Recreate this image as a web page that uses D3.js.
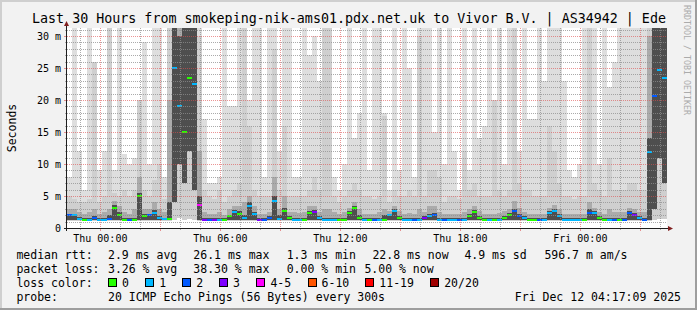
<!DOCTYPE html>
<html>
<head>
<meta charset="utf-8">
<script src="https://cdn.jsdelivr.net/npm/d3@7"></script>
<style>
  body { margin: 0; background: #f2f2f2; }
  svg { display: block; }
  svg text { font-family: "DejaVu Sans Mono", monospace; }
</style>
</head>
<body>
<svg id="chart" width="697" height="310"></svg>
<script>
// one column = 15 minutes, 120 columns = 30 hours (values in ms)
var maxPing = [8, 40, 12, 6, 40, 26, 9, 12, 40, 9,
  40, 11.5, 10, 11, 20, 29, 10, 40, 40, 8,
  40, 40, 40, 40, 40, 40, 40, 17, 7, 7,
  8, 40, 19, 19, 40, 40, 20, 40, 40, 8,
  40, 40, 12, 40, 40, 8, 8, 40, 27, 30,
  23, 40, 40, 8, 6, 10, 40, 14, 18, 40,
  9, 40, 40, 18, 6, 40, 9, 40, 25, 8,
  40, 40, 40, 15, 40, 10, 40, 12, 6, 40,
  9, 40, 14, 16, 40, 20, 40, 10, 40, 40,
  12, 40, 17, 17, 40, 23, 40, 40, 40, 23,
  9, 8, 10, 40, 40, 40, 10, 40, 22, 26,
  40, 40, 40, 40, 40, 40, 40, 40, 40, 40];

var upper2 = [5, 4.5, 4, 4, 4.5, 26, 4, 5, 40, 5.5,
  5, 6, 5, 6, 20, 6, 5, 7.5, 10, 4.5,
  40, 40, 40, 40, 40, 40, 30, 6, 5, 4.5,
  6, 4, 5, 6, 7, 40, 16, 6, 5, 5,
  5, 28, 6, 16, 5, 5, 5, 5, 6, 8,
  6, 40, 40, 5, 4, 5, 6, 7, 6, 5,
  5, 4.5, 5, 17.5, 4, 6, 5, 5, 6, 5,
  30, 5, 9, 9, 8, 4, 5, 5, 4.5, 12,
  6, 7, 5, 5, 5, 20, 6, 5, 6, 40,
  7, 6, 6, 5, 5, 5, 16, 12, 7, 5,
  5, 4.5, 5, 5, 40, 7, 6, 5, 11, 6,
  6, 6, 7, 7, 6, 6, 40, 40, 40, 40];

var upper3 = [3, 3, 2.5, 2.2, 2.5, 3, 2.2, 2.5, 3, 4.2,
  3.5, 2.5, 2.2, 3, 8, 3, 3, 4, 3, 2.5,
  20, 40, 35, 34, 40, 36, 12, 2.5, 2.2, 2.2,
  2.5, 2, 3, 3.5, 3.5, 4, 5, 3.5, 2.2, 2.2,
  2.5, 8, 3, 5, 2.5, 2.5, 2.4, 2.5, 3.5, 3.5,
  2.5, 3, 3, 2.5, 2.2, 2.5, 3.2, 4, 3, 2.2,
  2.2, 2.2, 2.5, 3, 2.6, 3.4, 2.6, 2.2, 2.4, 2.2,
  3, 2.5, 3.5, 3.5, 2.5, 2.2, 2.2, 2.2, 2.2, 2.5,
  3, 3.5, 2.6, 2.2, 2.2, 2.2, 2.4, 2.6, 3, 4.2,
  3.2, 2.5, 2.2, 2.2, 2.2, 2.2, 3.2, 3.6, 3, 2.2,
  2.2, 2.2, 2.2, 2.2, 4, 3.2, 2.5, 2.2, 3, 2.5,
  2.5, 2.5, 3.2, 3, 2.5, 2.5, 30, 40, 40, 36];

var upper4 = [2.2, 2.2, 1.7, 1.5, 1.6, 1.8, 1.5, 1.6, 2, 3.6,
  2.5, 1.6, 1.5, 1.6, 5.5, 2.2, 2.2, 2.8, 1.8, 1.6,
  4, 40, 30, 40, 40, 32, 5, 1.6, 1.5, 1.5,
  1.6, 1.5, 2, 2.8, 2.6, 2, 4, 2.5, 1.5, 1.5,
  1.8, 5, 2, 3.2, 1.8, 1.6, 1.6, 1.6, 2.6, 2.8,
  1.8, 1.6, 1.6, 1.5, 1.5, 1.6, 2.6, 3.4, 2, 1.5,
  1.5, 1.5, 1.6, 2, 2.2, 2.9, 1.8, 1.5, 1.5, 1.5,
  1.6, 1.8, 2.2, 2.4, 1.6, 1.5, 1.5, 1.5, 1.5, 1.6,
  2.2, 2.8, 1.8, 1.5, 1.5, 1.5, 1.6, 1.8, 2.4, 3,
  2.2, 1.8, 1.5, 1.5, 1.5, 1.5, 2.6, 2.9, 2.2, 1.5,
  1.5, 1.5, 1.5, 1.5, 3, 2.6, 1.8, 1.5, 1.6, 1.6,
  1.6, 1.6, 2.6, 2.4, 1.8, 1.6, 14, 40, 40, 33];

var lowerOuter = [1.15, 1.15, 1.15, 1.15, 1.15, 1.15, 1.15, 1.15, 1.15, 1.15,
  1.15, 1.15, 1.15, 1.15, 1.15, 1.15, 1.15, 1.15, 1.15, 1.15,
  1.15, 1.3, 1.5, 1.3, 1.4, 1.3, 1.15, 1.15, 1.15, 1.15,
  1.15, 1.15, 1.15, 1.15, 1.15, 1.15, 1.15, 1.15, 1.15, 1.15,
  1.15, 1.15, 1.15, 1.15, 1.15, 1.15, 1.15, 1.15, 1.15, 1.15,
  1.15, 1.15, 1.15, 1.15, 1.15, 1.15, 1.15, 1.15, 1.15, 1.15,
  1.15, 1.15, 1.15, 1.15, 1.15, 1.15, 1.15, 1.15, 1.15, 1.15,
  1.15, 1.15, 1.15, 1.15, 1.15, 1.15, 1.15, 1.15, 1.15, 1.15,
  1.15, 1.15, 1.15, 1.15, 1.15, 1.15, 1.15, 1.15, 1.15, 1.15,
  1.15, 1.15, 1.15, 1.15, 1.15, 1.15, 1.15, 1.15, 1.15, 1.15,
  1.15, 1.15, 1.15, 1.15, 1.15, 1.15, 1.15, 1.15, 1.15, 1.15,
  1.15, 1.15, 1.15, 1.15, 1.15, 1.15, 1.15, 1.3, 1.4, 1.4];

var lowerInner = [1.2, 1.2, 1.2, 1.2, 1.2, 1.2, 1.2, 1.2, 1.2, 1.2,
  1.2, 1.2, 1.2, 1.2, 1.2, 1.2, 1.2, 1.2, 1.2, 1.2,
  1.2, 4, 10, 7, 12, 6, 1.3, 1.2, 1.2, 1.2,
  1.2, 1.2, 1.2, 1.2, 1.2, 1.2, 1.2, 1.2, 1.2, 1.2,
  1.2, 1.2, 1.2, 1.2, 1.2, 1.2, 1.2, 1.2, 1.2, 1.2,
  1.2, 1.2, 1.2, 1.2, 1.2, 1.2, 1.2, 1.2, 1.2, 1.2,
  1.2, 1.2, 1.2, 1.2, 1.2, 1.2, 1.2, 1.2, 1.2, 1.2,
  1.2, 1.2, 1.2, 1.2, 1.2, 1.2, 1.2, 1.2, 1.2, 1.2,
  1.2, 1.2, 1.2, 1.2, 1.2, 1.2, 1.2, 1.2, 1.2, 1.2,
  1.2, 1.2, 1.2, 1.2, 1.2, 1.2, 1.2, 1.2, 1.2, 1.2,
  1.2, 1.2, 1.2, 1.2, 1.2, 1.2, 1.2, 1.2, 1.2, 1.2,
  1.2, 1.2, 1.2, 1.2, 1.2, 1.2, 1.3, 3, 11, 7];

var medianRtt = [2.0, 2.0, 1.4, 1.3, 1.3, 1.6, 1.3, 1.3, 1.4, 3.2,
  2.0, 1.3, 1.3, 1.3, 5.0, 1.8, 2.0, 2.3, 1.5, 1.4,
  1.4, 25, 19, 15, 23.5, 22.5, 3.6, 1.3, 1.3, 1.3,
  1.3, 1.3, 1.8, 2.5, 2.2, 1.6, 3.5, 2.2, 1.3, 1.3,
  1.5, 4.2, 1.4, 2.7, 1.5, 1.3, 1.3, 1.3, 2.3, 2.5,
  1.5, 1.3, 1.3, 1.3, 1.3, 1.3, 2.3, 3.1, 1.5, 1.3,
  1.3, 1.3, 1.3, 1.3, 2.0, 2.7, 1.5, 1.3, 1.3, 1.3,
  1.3, 1.6, 1.8, 2.0, 1.3, 1.3, 1.3, 1.3, 1.3, 1.3,
  1.8, 2.5, 1.5, 1.3, 1.3, 1.3, 1.3, 1.5, 2.0, 2.6,
  1.8, 1.5, 1.3, 1.3, 1.3, 1.3, 2.3, 2.6, 1.8, 1.3,
  1.3, 1.3, 1.3, 1.3, 2.4, 2.3, 1.5, 1.3, 1.3, 1.3,
  1.3, 1.3, 2.3, 2.1, 1.5, 1.3, 11.9, 20.6, 24.7, 23.5];

var lossCount = [2, 1, 1, 0, 1, 2, 1, 1, 2, 0,
  0, 0, 2, 0, 0, 0, 2, 1, 1, 1,
  0, 1, 1, 0, 0, 1, 4, 3, 2, 3,
  1, 0, 0, 1, 0, 1, 1, 1, 3, 2,
  2, 1, 1, 0, 0, 1, 1, 0, 0, 3,
  1, 1, 1, 1, 0, 0, 0, 0, 0, 1,
  0, 2, 1, 0, 1, 1, 0, 1, 1, 2,
  1, 3, 1, 2, 1, 2, 1, 1, 2, 1,
  0, 0, 0, 0, 1, 0, 1, 0, 0, 2,
  2, 1, 0, 0, 2, 1, 1, 1, 1, 1,
  1, 1, 1, 0, 2, 1, 0, 0, 1, 2,
  0, 2, 2, 3, 1, 2, 1, 2, 1, 1];

var lossMax = [0, 1, 2, 3, 5, 10, 19, 20];
var lossLabels = ["0", "1", "2", "3", "4-5", "6-10", "11-19", "20/20"];
var lossColors = ["#26ff00", "#00b8ff", "#0059ff", "#7e00ff", "#ff00ff", "#ff5500", "#ff0000", "#a00000"];
var smokeColors = ["#dedede", "#cfcfcf", "#ababab", "#4e4e4e"];

var yTicks = [0, 5, 10, 15, 20, 25, 30];

var legendRtt = [["2.9 ms avg", 108], ["26.1 ms max", 193.3], ["1.3 ms min", 286.7], ["22.8 ms now", 372.4], ["4.9 ms sd", 464.4], ["596.7 m am/s", 544.4]];
var legendLoss = [["3.26 % avg", 108], ["38.30 % max", 193.3], ["0.00 % min", 286.7], ["5.00 % now", 364.4]];
var legendBoxX = [108, 145.3, 182.2, 219, 256.4, 307.6, 365.3, 430.2];

var svg = d3.select("#chart");
var W = 697, H = 310;
// careful: "top" is taken by window.top
var plotLeft = 67, plotTop = 28, plotW = 600, plotH = 200;

var startTime = new Date(2025, 11, 10, 22, 20, 0);
var endTime = new Date(2025, 11, 12, 4, 20, 0);
var stepMin = 15;

var x = d3.scaleTime().domain([startTime, endTime]).range([plotLeft, plotLeft + plotW]);
var y = d3.scaleLinear().domain([0, 31.25]).range([plotTop + plotH, plotTop]);

var times = medianRtt.map(function(d, i) { return d3.timeMinute.offset(startTime, i * stepMin); });
function colX(i) { return x(times[i]); }
function colW(i) { return x(d3.timeMinute.offset(times[i], stepMin)) - x(times[i]); }

function lossColor(n) {
  for (var k = 0; k < lossMax.length; k++) {
    if (n <= lossMax[k]) return lossColors[k];
  }
  return lossColors[lossColors.length - 1];
}

// frame
svg.append("rect").attr("width", W).attr("height", H).attr("fill", "#f2f2f2");
svg.append("rect").attr("x", 0).attr("y", 0).attr("width", W).attr("height", 2).attr("fill", "#cfcfcf");
svg.append("rect").attr("x", 0).attr("y", 0).attr("width", 2).attr("height", H).attr("fill", "#cfcfcf");
svg.append("rect").attr("x", 0).attr("y", H - 2).attr("width", W).attr("height", 2).attr("fill", "#9e9e9e");
svg.append("rect").attr("x", W - 2).attr("y", 0).attr("width", 2).attr("height", H).attr("fill", "#9e9e9e");

// canvas
svg.append("rect").attr("x", plotLeft).attr("y", plotTop).attr("width", plotW).attr("height", plotH).attr("fill", "#fff");

svg.append("clipPath").attr("id", "plotclip")
  .append("rect").attr("x", plotLeft).attr("y", plotTop).attr("width", plotW).attr("height", plotH);

var plot = svg.append("g").attr("clip-path", "url(#plotclip)").attr("shape-rendering", "crispEdges");

// smoke
var layers = [
  { hi: maxPing, lo: lowerOuter },
  { hi: upper2, lo: lowerOuter },
  { hi: upper3, lo: lowerInner },
  { hi: upper4, lo: lowerInner }
];
layers.forEach(function(layer, li) {
  plot.append("g").selectAll("rect")
    .data(layer.hi)
    .enter().append("rect")
    .attr("x", function(d, i) { return colX(i); })
    .attr("width", function(d, i) { return colW(i); })
    .attr("y", function(d) { return y(d); })
    .attr("height", function(d, i) { return Math.max(0, y(layer.lo[i]) - y(d)); })
    .attr("fill", smokeColors[li]);
});

// median, coloured by loss
plot.append("g").selectAll("rect")
  .data(medianRtt)
  .enter().append("rect")
  .attr("x", function(d, i) { return colX(i); })
  .attr("width", function(d, i) { return colW(i); })
  .attr("y", function(d) { return Math.round(y(d)) - 1; })
  .attr("height", 2)
  .attr("fill", function(d, i) { return lossColor(lossCount[i]); });

// grid on top
var grid = svg.append("g").attr("shape-rendering", "crispEdges");
var minorColor = "rgba(143,143,143,0.75)", majorColor = "rgba(222,79,79,0.6)";

d3.range(1, 32).forEach(function(v) {
  var yy = Math.round(y(v)) + 0.5;
  var major = v % 5 === 0;
  grid.append("line").attr("x1", plotLeft).attr("x2", plotLeft + plotW).attr("y1", yy).attr("y2", yy)
    .attr("stroke", major ? majorColor : minorColor).attr("stroke-dasharray", "1,1");
  grid.append("line").attr("x1", plotLeft - (major ? 3 : 2)).attr("x2", plotLeft).attr("y1", yy).attr("y2", yy)
    .attr("stroke", major ? majorColor : minorColor);
});

x.ticks(d3.timeHour.every(1)).forEach(function(t) {
  var xx = Math.round(x(t)) + 0.5;
  var major = t.getHours() % 3 === 0;
  grid.append("line").attr("x1", xx).attr("x2", xx).attr("y1", plotTop).attr("y2", plotTop + plotH)
    .attr("stroke", major ? majorColor : minorColor).attr("stroke-dasharray", "1,1");
  grid.append("line").attr("x1", xx).attr("x2", xx).attr("y1", plotTop + plotH).attr("y2", plotTop + plotH + (major ? 3 : 2))
    .attr("stroke", major ? majorColor : minorColor);
});

// axes + arrows
var axisColor = "#1f1f1f", arrowColor = "#801f1f";
var y0 = y(0);
svg.append("line").attr("x1", plotLeft - 3).attr("x2", plotLeft + plotW + 2).attr("y1", y0 + 0.5).attr("y2", y0 + 0.5)
  .attr("stroke", axisColor).attr("shape-rendering", "crispEdges");
svg.append("line").attr("x1", plotLeft - 0.5).attr("x2", plotLeft - 0.5).attr("y1", y0 + 3).attr("y2", plotTop - 2)
  .attr("stroke", axisColor).attr("shape-rendering", "crispEdges");
svg.append("path").attr("d", "M" + (plotLeft - 3) + "," + (plotTop - 2) + "L" + (plotLeft - 0.5) + "," + (plotTop - 7) + "L" + (plotLeft + 2) + "," + (plotTop - 2) + "Z")
  .attr("fill", arrowColor);
svg.append("path").attr("d", "M" + (plotLeft + plotW + 1) + "," + (y0 - 2) + "L" + (plotLeft + plotW + 6) + "," + (y0 + 0.5) + "L" + (plotLeft + plotW + 1) + "," + (y0 + 3) + "Z")
  .attr("fill", arrowColor);

// y tick labels
svg.append("g").selectAll("text").data(yTicks).enter().append("text")
  .attr("x", 61).attr("y", function(d) { return y(d) + 3.6; })
  .attr("text-anchor", "end").attr("font-size", "10px")
  .text(function(d) { return d === 0 ? "0" : d + " m"; });

// x tick labels
var fmt = d3.timeFormat("%a %H:%M");
svg.append("g").selectAll("text").data(x.ticks(d3.timeHour.every(6))).enter().append("text")
  .attr("x", function(d) { return x(d); }).attr("y", 242)
  .attr("text-anchor", "middle").attr("font-size", "10px")
  .text(function(d) { return fmt(d); });

// title, unit label, watermark
svg.append("text").attr("x", 349).attr("y", 23).attr("text-anchor", "middle").attr("font-size", "13.33px")
  .text("Last 30 Hours from smokeping-nik-ams01.pdx.net.uk to Vivor B.V. | AS34942 | Ede");
svg.append("text").attr("transform", "translate(15.5,128) rotate(-90)").attr("text-anchor", "middle").attr("font-size", "11.5px")
  .text("Seconds");
svg.append("text").attr("transform", "translate(684,5) rotate(90)").attr("font-size", "8.3px").attr("fill", "#ababab")
  .text("RRDTOOL / TOBI OETIKER");

// legend
var lg = svg.append("g").attr("font-size", "11.5px");
var rows = [259, 273, 287, 301];
lg.append("text").attr("x", 16.4).attr("y", rows[0]).text("median rtt:");
legendRtt.forEach(function(d) { lg.append("text").attr("x", d[1]).attr("y", rows[0]).text(d[0]); });
lg.append("text").attr("x", 16.4).attr("y", rows[1]).text("packet loss:");
legendLoss.forEach(function(d) { lg.append("text").attr("x", d[1]).attr("y", rows[1]).text(d[0]); });
lg.append("text").attr("x", 16.4).attr("y", rows[2]).text("loss color:");
lossLabels.forEach(function(lab, k) {
  lg.append("rect").attr("x", Math.round(legendBoxX[k]) + 0.5).attr("y", rows[2] - 8.5).attr("width", 8).attr("height", 8)
    .attr("fill", lossColors[k]).attr("stroke", "#000").attr("shape-rendering", "crispEdges");
  lg.append("text").attr("x", legendBoxX[k] + 14).attr("y", rows[2]).text(lab);
});
lg.append("text").attr("x", 16.4).attr("y", rows[3]).text("probe:");
lg.append("text").attr("x", 108).attr("y", rows[3]).text("20 ICMP Echo Pings (56 Bytes) every 300s");
lg.append("text").attr("x", 681).attr("y", rows[3]).attr("text-anchor", "end").text("Fri Dec 12 04:17:09 2025");
</script>
</body>
</html>
